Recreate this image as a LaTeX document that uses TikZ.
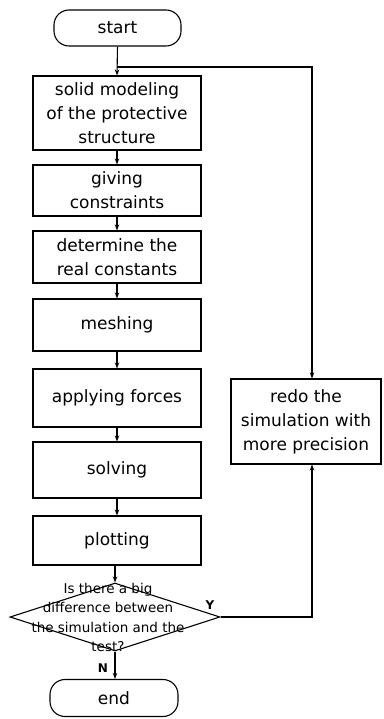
\documentclass[tikz,border=0pt]{standalone}
\usepackage{fontspec}
\setmainfont{DejaVu Sans}
\usetikzlibrary{shapes.geometric,arrows.meta}
\tikzset{
  flow/.style={draw, line width=1.1pt},
  stepbox/.style={draw, line width=1.1pt, rectangle, inner sep=0pt, align=center,
    font=\fontsize{17}{24}\selectfont},
  term/.style={draw, line width=1.1pt, rectangle, rounded corners=15pt, inner sep=0pt,
    font=\fontsize{17}{24}\selectfont},
  decide/.style={draw, line width=1.1pt, diamond, inner sep=0pt},
  qtext/.style={align=center, inner sep=0pt, font=\fontsize{13.5}{19.5}\selectfont},
  branch/.style={inner sep=0pt, font=\bfseries\fontsize{12}{14}\selectfont},
  arr/.style={flow, -{Stealth[length=6pt,width=4.5pt]}}
}
\begin{document}
\begin{tikzpicture}[x=1pt,y=-1pt]
\useasboundingbox (0,0) rectangle (383,719);

% main column
\node[term, minimum width=127pt, minimum height=36pt] (start) at (117.5,28) {start};
\node[stepbox, minimum width=168pt, minimum height=74pt] (b1) at (117,113)
  {solid modeling\\of the protective\\structure};
\node[stepbox, minimum width=168pt, minimum height=51pt] (b2) at (117,190.5)
  {giving\\constraints};
\node[stepbox, minimum width=168pt, minimum height=52pt] (b3) at (117,257)
  {determine the\\real constants};
\node[stepbox, minimum width=168pt, minimum height=52pt] (b4) at (117,325) {meshing};
\node[stepbox, minimum width=168pt, minimum height=58pt] (b5) at (117,398) {applying forces};
\node[stepbox, minimum width=168pt, minimum height=56pt] (b6) at (117,470) {solving};
\node[stepbox, minimum width=168pt, minimum height=49pt] (b7) at (117,540.5) {plotting};

% decision
\node[decide, minimum width=210pt, minimum height=68pt] (dec) at (115,617) {};
\node[qtext] (qt) at (108,617.5)
  {Is there a big\\difference between\\the simulation and the\\test?};
\node[term, minimum width=128pt, minimum height=37pt] (end) at (114,698) {end};

% side branch
\node[stepbox, minimum width=150pt, minimum height=85pt] (redo) at (306,421.5)
  {redo the\\simulation with\\more precision};

\node[branch] (ylab) at (210,605) {Y};
\node[branch] (nlab) at (103,668) {N};

% connectors
\coordinate (j) at (117,67);
\coordinate (rline) at (312,0);
\draw[arr] (start.south) -- (b1.north);
\draw[arr] (b1) -- (b2);
\draw[arr] (b2) -- (b3);
\draw[arr] (b3) -- (b4);
\draw[arr] (b4) -- (b5);
\draw[arr] (b5) -- (b6);
\draw[arr] (b6) -- (b7);
\draw[arr] (dec.north |- b7.south) -- (dec.north);
\draw[arr] (dec.south) -- (dec.south |- end.north);
\draw[arr] (j) -| (rline |- redo.north);
\draw[arr] (dec.east) -| (rline |- redo.south);
\end{tikzpicture}
\end{document}
